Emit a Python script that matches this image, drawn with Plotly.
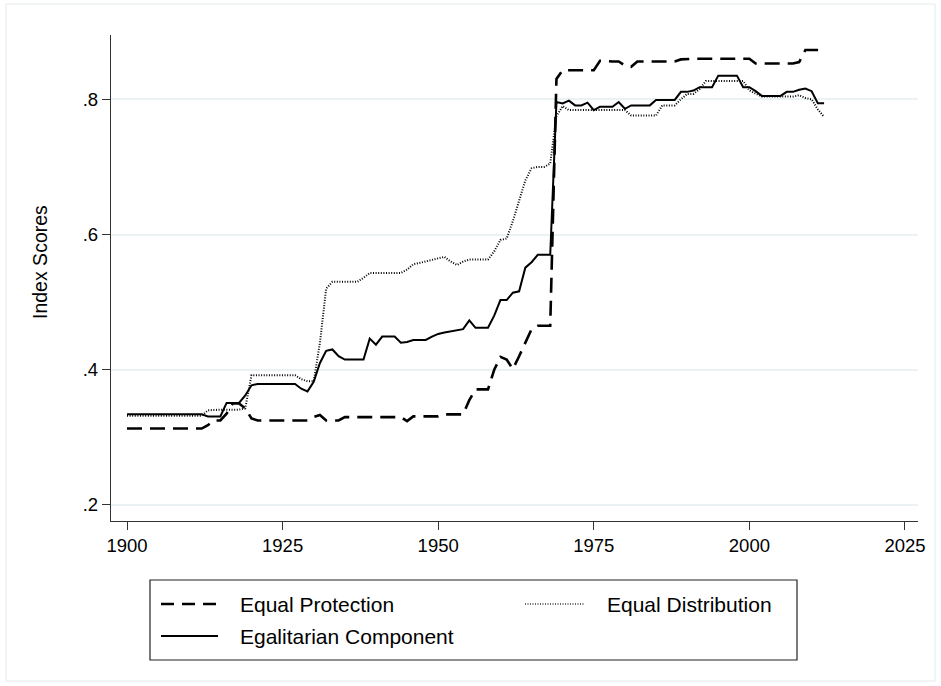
import plotly.graph_objects as go

years = list(range(1900, 2013))

equal_protection = [
    0.313, 0.313, 0.313, 0.313, 0.313, 0.313, 0.313, 0.313, 0.313, 0.313, 0.313, 0.313, 0.313,
    0.318, 0.325, 0.325, 0.335, 0.350, 0.350, 0.343, 0.328,
    0.325, 0.325, 0.325, 0.325, 0.325, 0.325, 0.325, 0.325, 0.325,
    0.330, 0.333, 0.325,
    0.325, 0.325,
    0.330, 0.330, 0.330, 0.330, 0.330, 0.330, 0.330, 0.330, 0.330, 0.330,
    0.324,
    0.331, 0.331, 0.331, 0.331, 0.331,
    0.334, 0.334, 0.334, 0.334,
    0.355, 0.371, 0.371, 0.371, 0.400, 0.419, 0.415, 0.401, 0.420, 0.440, 0.460, 0.465, 0.465, 0.465,
    0.830,
    0.843, 0.843, 0.843, 0.843, 0.843, 0.843,
    0.857, 0.856, 0.856, 0.856, 0.850, 0.848, 0.856,
    0.856, 0.856, 0.856, 0.856, 0.856, 0.856,
    0.859,
    0.860, 0.860, 0.860, 0.860, 0.860, 0.860, 0.860, 0.860, 0.860, 0.860, 0.860,
    0.853, 0.853, 0.853, 0.853, 0.853, 0.853, 0.853, 0.855,
    0.873, 0.873, 0.873, 0.873,
]

egalitarian_component = [
    0.334, 0.334, 0.334, 0.334, 0.334, 0.334, 0.334, 0.334, 0.334, 0.334, 0.334, 0.334, 0.334,
    0.331, 0.331, 0.331,
    0.351, 0.351, 0.351,
    0.362, 0.377,
    0.379, 0.379, 0.379, 0.379, 0.379, 0.379, 0.379,
    0.372, 0.368, 0.382, 0.410, 0.428, 0.430, 0.420,
    0.415, 0.415, 0.415, 0.415,
    0.446, 0.437,
    0.449, 0.449, 0.449,
    0.440, 0.441, 0.444, 0.444, 0.444, 0.449, 0.453, 0.455, 0.457, 0.459, 0.460, 0.473,
    0.462, 0.462, 0.462,
    0.480, 0.503, 0.503, 0.514, 0.516, 0.551, 0.559,
    0.570, 0.570, 0.570,
    0.796, 0.794, 0.798, 0.791, 0.791, 0.795, 0.784,
    0.789, 0.789, 0.789,
    0.796, 0.786,
    0.791, 0.791, 0.791, 0.791,
    0.799, 0.799, 0.799, 0.799,
    0.811, 0.811, 0.813,
    0.818, 0.818, 0.818,
    0.835, 0.835, 0.835, 0.835,
    0.818, 0.818, 0.812,
    0.805, 0.805, 0.805, 0.805,
    0.811, 0.811, 0.814, 0.816, 0.812, 0.794, 0.794,
]

equal_distribution = [
    0.332, 0.332, 0.332, 0.332, 0.332, 0.332, 0.332, 0.332, 0.332, 0.332, 0.332, 0.332, 0.332,
    0.340,
    0.341, 0.341, 0.341, 0.341, 0.341,
    0.343,
    0.392, 0.392, 0.392, 0.392, 0.392, 0.392, 0.392, 0.392,
    0.386, 0.383, 0.383, 0.440, 0.520,
    0.530, 0.530, 0.530, 0.530, 0.530,
    0.536,
    0.543, 0.543, 0.543, 0.543, 0.543, 0.543,
    0.548, 0.556, 0.558, 0.560, 0.562, 0.565, 0.567, 0.560, 0.555, 0.560,
    0.563, 0.563, 0.563, 0.563,
    0.575, 0.592, 0.594, 0.620, 0.650, 0.680, 0.698, 0.700, 0.700, 0.705, 0.775, 0.790,
    0.784, 0.784, 0.784, 0.784, 0.784, 0.784, 0.784, 0.784, 0.784, 0.784,
    0.776, 0.776, 0.776, 0.776, 0.776,
    0.791, 0.791, 0.791,
    0.800, 0.808, 0.808, 0.815,
    0.827, 0.827, 0.827, 0.827, 0.827, 0.827, 0.827,
    0.813, 0.808,
    0.804, 0.804, 0.804, 0.804, 0.804, 0.804,
    0.806, 0.802, 0.800, 0.785, 0.774,
]

y_tick_vals = [0.2, 0.4, 0.6, 0.8]
y_tick_text = [".2", ".4", ".6", ".8"]
x_tick_vals = [1900, 1925, 1950, 1975, 2000, 2025]

FONT = "Liberation Sans, Arial, Helvetica, sans-serif"

fig = go.Figure()
fig.add_trace(go.Scatter(x=years, y=equal_protection, mode="lines", name="Equal Protection",
                         line=dict(color="black", width=2.6, dash="15px,8px")))
fig.add_trace(go.Scatter(x=years, y=equal_distribution, mode="lines", name="Equal Distribution",
                         line=dict(color="black", width=2.0, dash="1px,1.6px")))
fig.add_trace(go.Scatter(x=years, y=egalitarian_component, mode="lines", name="Egalitarian Component",
                         line=dict(color="black", width=2)))

W, H = 941, 686
L, R, T, B = 111, 23, 35, 165
pw, ph = W - L - R, H - T - B


def px(x):
    return (x - L) / pw


def py(y):
    return (H - B - y) / ph


shapes = []
# outer faint frame
shapes.append(dict(type="rect", xref="paper", yref="paper", x0=px(6), x1=px(935), y0=py(681), y1=py(4),
                   line=dict(color="#E4EAEC", width=1)))
# legend box
shapes.append(dict(type="rect", xref="paper", yref="paper", x0=px(150), x1=px(797), y0=py(660), y1=py(580),
                   line=dict(color="#222222", width=1.2), fillcolor="white", layer="above"))
# legend samples
shapes.append(dict(type="line", xref="paper", yref="paper", x0=px(161), x1=px(218), y0=py(604), y1=py(604),
                   line=dict(color="black", width=2.6, dash="13px,8px")))
shapes.append(dict(type="line", xref="paper", yref="paper", x0=px(525), x1=px(584), y0=py(604), y1=py(604),
                   line=dict(color="#333333", width=1.6, dash="1px,1.5px")))
shapes.append(dict(type="line", xref="paper", yref="paper", x0=px(161), x1=px(218), y0=py(636), y1=py(636),
                   line=dict(color="black", width=2)))

annotations = [
    dict(text="Equal Protection", x=px(238), y=py(604), xref="paper", yref="paper",
         xanchor="left", yanchor="middle", showarrow=False, font=dict(size=21, color="black", family=FONT)),
    dict(text="Equal Distribution", x=px(605), y=py(604), xref="paper", yref="paper",
         xanchor="left", yanchor="middle", showarrow=False, font=dict(size=21, color="black", family=FONT)),
    dict(text="Egalitarian Component", x=px(238), y=py(636), xref="paper", yref="paper",
         xanchor="left", yanchor="middle", showarrow=False, font=dict(size=21, color="black", family=FONT)),
    dict(text="Index Scores", x=px(40), y=py(262), xref="paper", yref="paper", textangle=-90,
         xanchor="center", yanchor="middle", showarrow=False, font=dict(size=19.5, color="black", family=FONT)),
]

fig.update_layout(
    width=W, height=H,
    margin=dict(l=L, r=R, t=T, b=B, pad=0),
    paper_bgcolor="white", plot_bgcolor="white",
    showlegend=False,
    font=dict(family=FONT, color="black", size=17),
    shapes=shapes,
    annotations=annotations,
    xaxis=dict(range=[1897.43, 2027.09], tickvals=x_tick_vals, ticks="outside", ticklen=8, tickwidth=1,
               tickcolor="#333333", showline=True, linecolor="#333333", linewidth=1.4, showgrid=False,
               zeroline=False, tickfont=dict(size=18.5, color="black", family=FONT)),
    yaxis=dict(range=[0.1763, 0.8951], tickvals=y_tick_vals, ticktext=y_tick_text, ticks="outside",
               ticklen=8, tickwidth=1, tickcolor="#333333", showline=True, linecolor="#333333", linewidth=1.4,
               showgrid=True, gridcolor="#EAF2F3", gridwidth=1.5, zeroline=False,
               tickfont=dict(size=18.5, color="black", family=FONT)),
)

fig.write_html("out.html", config={"displayModeBar": False},
               post_script="document.body.style.margin='0';")
